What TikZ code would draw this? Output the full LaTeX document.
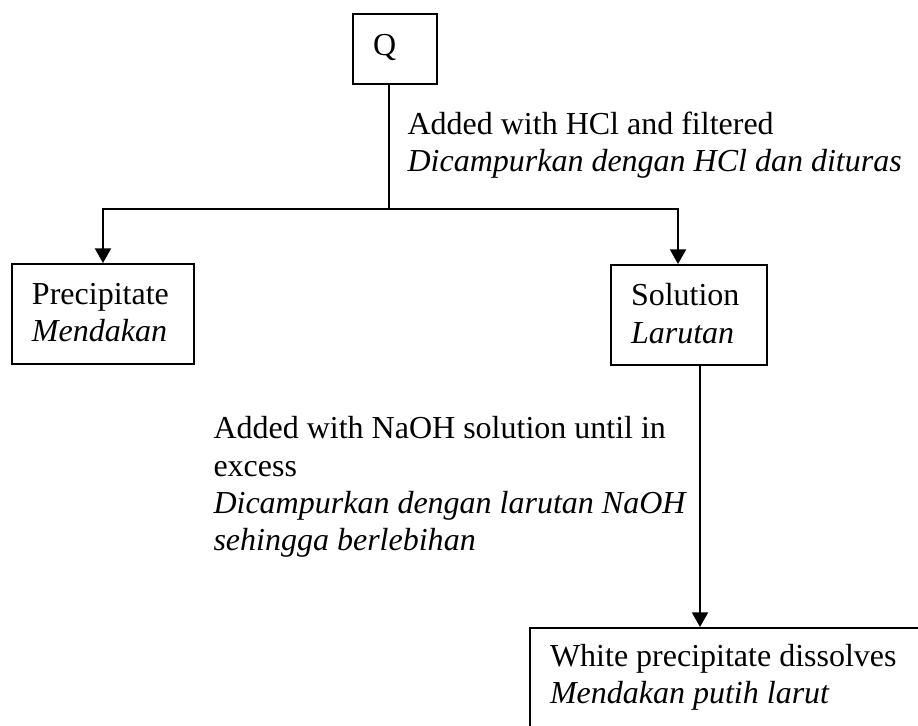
\documentclass[tikz,border=0pt]{standalone}
\usepackage{fontspec}
\setmainfont{Liberation Serif}
\usetikzlibrary{arrows.meta,positioning,calc}
\tikzset{
  stepbox/.style={draw,line width=0.75pt,anchor=north west,align=flush left,
    inner xsep=7.5pt,inner ysep=5pt,font=\fontsize{12}{14}\selectfont},
  note/.style={anchor=north west,align=left,inner sep=0pt,font=\fontsize{12}{14}\selectfont},
  link/.style={line width=0.75pt},
  arr/.style={-{Triangle[length=5.5pt,width=6pt]},line width=0.75pt},
}
% first line height and last line depth inside the boxes
\newcommand{\lift}[1]{\rule{0pt}{#1}}
\newcommand{\sink}[1]{\rule[-#1]{0pt}{#1}}

\begin{document}
\begin{tikzpicture}[x=0.375pt,y=-0.375pt]
  \useasboundingbox (0,0) rectangle (918,725);
  % boxes
  \node[stepbox,text width=16.5pt] (q) at (352,13) {\lift{10.5pt}Q\sink{5.8pt}};
  \node[stepbox,text width=53.25pt] (prec) at (11,263) {\lift{10pt}Precipitate\\ \textit{Mendakan}\sink{3.6pt}};
  \node[stepbox,text width=43.5pt] (sol) at (610,264) {\lift{10.3pt}Solution\\ \textit{Larutan}\sink{3.3pt}};
  \node[stepbox,text width=140pt] (res) at (529,627) {\lift{9.3pt}White precipitate dissolves\\ \textit{Mendakan putih larut}\sink{40pt}};
  % step labels
  \node[note] (hcl) at (407,111) {Added with HCl and filtered\\ \textit{Dicampurkan dengan HCl dan dituras}};
  \node[note] (naoh) at (213,416) {Added with NaOH solution until in\\ excess\\ \textit{Dicampurkan dengan larutan NaOH}\\ \textit{sehingga berlebihan}};
  % connectors
  \coordinate (split) at ($(q.south)+(-6,124)$);
  \draw[link] (q.south -| split) -- (split);
  \draw[arr] (split) -| (prec.north);
  \draw[arr] (split) -| ($(sol.north)+(-11,0)$);
  \coordinate (solout) at ($(sol.south)+(11,0)$);
  \draw[arr] (solout) -- (solout |- res.north);
\end{tikzpicture}
\end{document}
